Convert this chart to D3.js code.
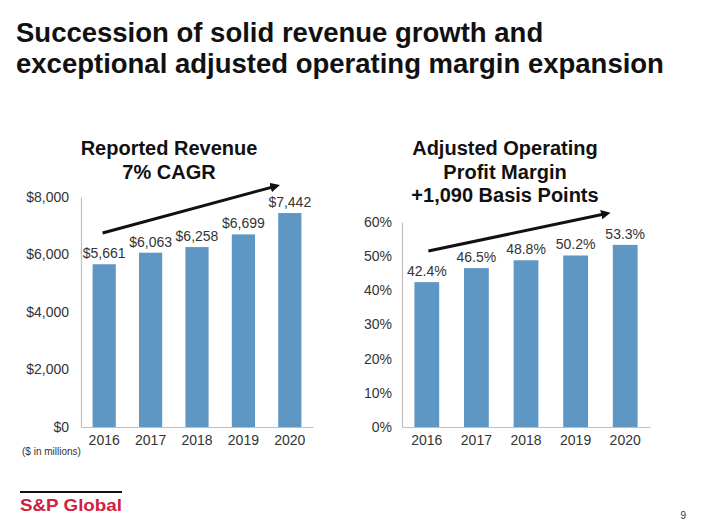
<!DOCTYPE html>
<html>
<head>
<meta charset="utf-8">
<script src="https://cdn.jsdelivr.net/npm/d3@7"></script>
<style>
  body { margin: 0; background: #fff; }
  svg { font-family: "Liberation Sans", Arial, sans-serif; display: block; }
  .axis .domain { stroke: #bfbfbf; stroke-width: 1.2; }
  .axis text { font-size: 14px; fill: #333; }
</style>
</head>
<body>
<script>
// chart data
const years = ['2016', '2017', '2018', '2019', '2020'];
const revenue = [5661, 6063, 6258, 6699, 7442];
const margin = [42.4, 46.5, 48.8, 50.2, 53.3];
const revenueTicks = [0, 2000, 4000, 6000, 8000];
const marginTicks = [0, 10, 20, 30, 40, 50, 60];

const W = 710, H = 528;
const barColor = '#5e97c3';

const svg = d3.select('body').append('svg')
    .attr('width', W)
    .attr('height', H);

// marker for trend arrows
svg.append('defs').append('marker')
    .attr('id', 'arrow')
    .attr('viewBox', '0 0 10 10')
    .attr('refX', 6)
    .attr('refY', 5)
    .attr('markerWidth', 3.2)
    .attr('markerHeight', 3.2)
    .attr('orient', 'auto')
  .append('path')
    .attr('d', 'M0,0 L10,5 L0,10 z')
    .attr('fill', '#111');

// slide title
const title = svg.append('text')
    .attr('x', 16)
    .attr('font-size', 27.5)
    .attr('font-weight', 'bold')
    .attr('fill', '#111');
title.append('tspan').attr('x', 16).attr('y', 42).text('Succession of solid revenue growth and');
title.append('tspan').attr('x', 16).attr('y', 73).text('exceptional adjusted operating margin expansion');

function barChart(opts) {
  const g = svg.append('g');

  const x = d3.scaleBand()
      .domain(years)
      .range(opts.xRange)
      .paddingInner(0.5)
      .paddingOuter(0.25);

  const y = d3.scaleLinear()
      .domain([0, d3.max(opts.ticks)])
      .range([427, opts.top]);

  g.append('g')
      .attr('class', 'axis')
      .attr('transform', `translate(${opts.xRange[0]},0)`)
      .call(d3.axisLeft(y).tickValues(opts.ticks).tickFormat(opts.tickFormat)
        .tickSize(0).tickPadding(opts.tickPad));

  g.append('g')
      .attr('class', 'axis')
      .attr('transform', 'translate(0,427)')
      .call(d3.axisBottom(x).tickSize(0).tickPadding(8));

  g.selectAll('.bar')
    .data(opts.values)
    .enter().append('rect')
      .attr('class', 'bar')
      .attr('x', (d, i) => x(years[i]))
      .attr('y', d => y(d))
      .attr('width', x.bandwidth())
      .attr('height', d => 427 - y(d))
      .attr('fill', barColor);

  g.selectAll('.val')
    .data(opts.values)
    .enter().append('text')
      .attr('class', 'val')
      .attr('x', (d, i) => x(years[i]) + x.bandwidth() / 2)
      .attr('y', d => y(d) - 6)
      .attr('text-anchor', 'middle')
      .attr('font-size', 14)
      .attr('fill', '#333')
      .text(opts.valueFormat);

  // trend arrow
  const a = opts.arrow;
  g.append('line')
      .attr('x1', x(years[0]) + a[0])
      .attr('y1', y(a[1]))
      .attr('x2', x(years[4]) + a[2])
      .attr('y2', y(a[3]))
      .attr('stroke', '#111')
      .attr('stroke-width', 3)
      .attr('marker-end', 'url(#arrow)');

  const head = g.append('text')
      .attr('text-anchor', 'middle')
      .attr('font-size', 20)
      .attr('font-weight', 'bold')
      .attr('fill', '#111');
  opts.heading.forEach((t, i) => {
    head.append('tspan')
        .attr('x', opts.headX)
        .attr('y', 155 + i * 23.5)
        .text(t);
  });
}

barChart({
  xRange: [81, 313],
  top: 197,
  ticks: revenueTicks,
  tickFormat: d => '$' + d3.format(',')(d),
  tickPad: 12,
  values: revenue,
  valueFormat: d => '$' + d3.format(',')(d),
  arrow: [10, 6750, -2, 8380],
  heading: ['Reported Revenue', '7% CAGR'],
  headX: 169
});

barChart({
  xRange: [402, 650],
  top: 222,
  ticks: marginTicks,
  tickFormat: d => d + '%',
  tickPad: 10,
  values: margin,
  valueFormat: d => d.toFixed(1) + '%',
  arrow: [14, 51.5, -6, 62.5],
  heading: ['Adjusted Operating', 'Profit Margin', '+1,090 Basis Points'],
  headX: 505
});

svg.append('text')
    .attr('x', 22)
    .attr('y', 455)
    .attr('font-size', 10)
    .attr('fill', '#333')
    .text('($ in millions)');

// footer
svg.append('line')
    .attr('x1', 20).attr('x2', 122)
    .attr('y1', 492).attr('y2', 492)
    .attr('stroke', '#111')
    .attr('stroke-width', 2);

svg.append('text')
    .attr('x', 20)
    .attr('y', 511)
    .attr('font-size', 17)
    .attr('font-weight', 'bold')
    .attr('fill', '#d0203f')
    .attr('textLength', 102)
    .attr('lengthAdjust', 'spacingAndGlyphs')
    .text('S&P Global');

svg.append('text')
    .attr('x', 686)
    .attr('y', 519)
    .attr('text-anchor', 'end')
    .attr('font-size', 10)
    .attr('fill', '#333')
    .text('9');
</script>
</body>
</html>
